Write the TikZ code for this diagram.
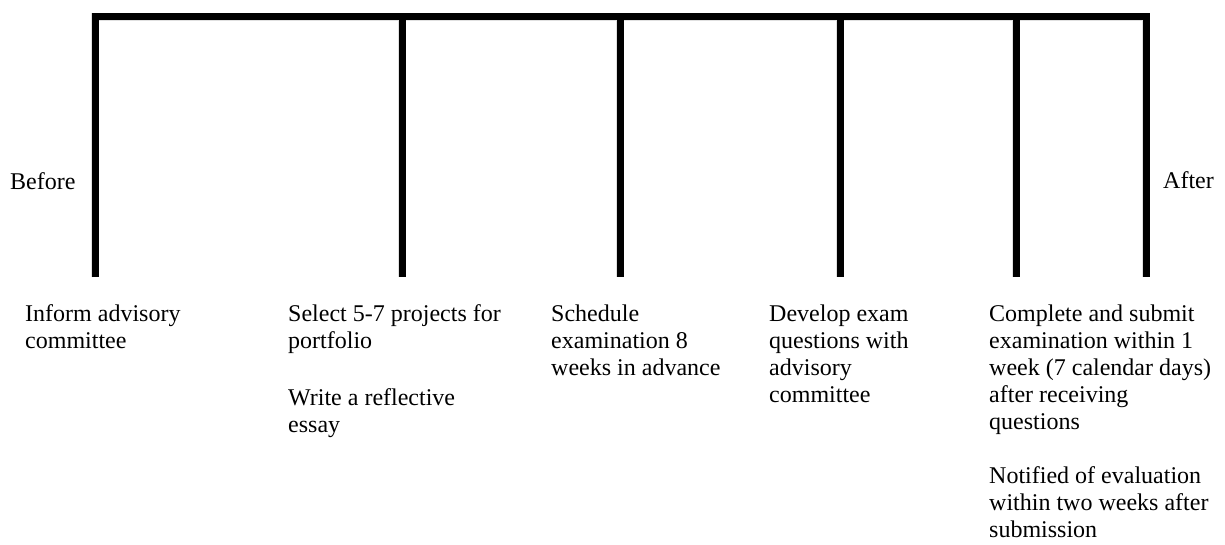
\documentclass[tikz,border=0pt]{standalone}
\usepackage{fontspec}
\setmainfont{Liberation Serif}
\newcommand{\steptext}[1]{\begin{tabular}[t]{@{}l@{}}#1\end{tabular}}
\begin{document}
\begin{tikzpicture}[x=1pt,y=-1pt,
  bar/.style={line width=7pt,black},
  barshadow/.style={line width=8pt,black!12,shift={(2.5,2.5)}},
  label/.style={anchor=base west,inner sep=0pt,font=\fontsize{24}{27}\selectfont},
  side/.style={anchor=base west,inner sep=0pt,font=\fontsize{24}{27}\selectfont}]
\useasboundingbox (0,0) rectangle (1225,544);
% tops and bottoms of the ticks
\coordinate (t1) at (95,16.5);   \coordinate (b1) at (95,277);
\coordinate (t2) at (402,16.5);  \coordinate (b2) at (402,277);
\coordinate (t3) at (620,16.5);  \coordinate (b3) at (620,277);
\coordinate (t4) at (840,16.5);  \coordinate (b4) at (840,277);
\coordinate (t5) at (1016,16.5); \coordinate (b5) at (1016,277);
\coordinate (t6) at (1146,16.5); \coordinate (b6) at (1146,277);
% soft shadow
\draw[barshadow] (b1) -- (t1) -- (t6) -- (b6);
\foreach \i in {2,3,4,5} \draw[barshadow] (t\i) -- (b\i);
% timeline
\draw[bar] (b1) -- (t1) -- (t6) -- (b6);
\foreach \i in {2,3,4,5} \draw[bar] (t\i) -- (b\i);
% side labels
\node[side] (before) at (10,189) {Before};
\node[side] (after) at (1163,188) {After};
% step texts
\node[label] (s1) at (25,321) {\steptext{Inform advisory\\committee}};
\node[label] (s2) at (288,321) {\steptext{Select 5-7 projects for\\portfolio\\[30pt]Write a reflective\\essay}};
\node[label] (s3) at (551,321) {\steptext{Schedule\\examination 8\\weeks in advance}};
\node[label] (s4) at (769,321) {\steptext{Develop exam\\questions with\\advisory\\committee}};
\node[label] (s5) at (989,321) {\steptext{Complete and submit\\examination within 1\\week (7 calendar days)\\after receiving\\questions\\[27pt]Notified of evaluation\\within two weeks after\\submission}};
\end{tikzpicture}
\end{document}
